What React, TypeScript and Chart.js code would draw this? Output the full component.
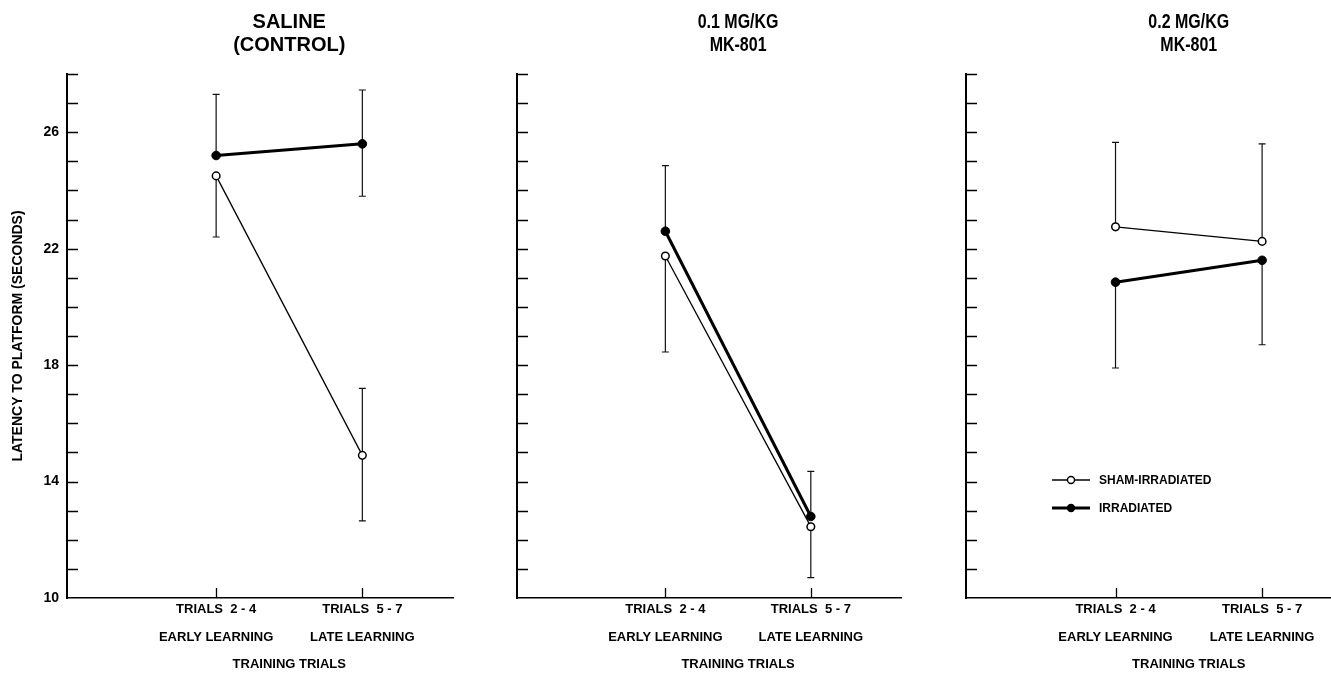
import React, { useEffect, useRef } from 'react';
import { Chart, registerables } from 'chart.js';

Chart.register(...registerables);

// ---------- data ----------
const categories = ['TRIALS  2 - 4', 'TRIALS  5 - 7'];
const phases = ['EARLY LEARNING', 'LATE LEARNING'];
const categoryX = [1, 2];
const xAxisTitle = 'TRAINING TRIALS';
const yAxisTitle = 'LATENCY TO PLATFORM (SECONDS)';
const yLabelValues = [10, 14, 18, 22, 26];
const seriesNames = ['SHAM-IRRADIATED', 'IRRADIATED'];
const panelTitles = [
  ['SALINE', '(CONTROL)'],
  ['0.1 MG/KG', 'MK-801'],
  ['0.2 MG/KG', 'MK-801'],
];

// Saline (control)
const salineSham = [24.5, 14.9];
const salineShamErrUp = [0, 2.3];
const salineShamErrDown = [2.1, 2.25];
const salineIrr = [25.2, 25.6];
const salineIrrErrUp = [2.1, 1.85];
const salineIrrErrDown = [0, 1.8];

// 0.1 mg/kg MK-801
const mk01Sham = [21.75, 12.45];
const mk01ShamErrUp = [0, 0];
const mk01ShamErrDown = [3.3, 1.75];
const mk01Irr = [22.6, 12.8];
const mk01IrrErrUp = [2.25, 1.55];
const mk01IrrErrDown = [0, 0];

// 0.2 mg/kg MK-801
const mk02Sham = [22.75, 22.25];
const mk02ShamErrUp = [2.9, 3.35];
const mk02ShamErrDown = [0, 0];
const mk02Irr = [20.85, 21.6];
const mk02IrrErrUp = [0, 0];
const mk02IrrErrDown = [2.95, 2.9];

const shamSeries = [salineSham, mk01Sham, mk02Sham];
const shamUp = [salineShamErrUp, mk01ShamErrUp, mk02ShamErrUp];
const shamDown = [salineShamErrDown, mk01ShamErrDown, mk02ShamErrDown];
const irrSeries = [salineIrr, mk01Irr, mk02Irr];
const irrUp = [salineIrrErrUp, mk01IrrErrUp, mk02IrrErrUp];
const irrDown = [salineIrrErrDown, mk01IrrErrDown, mk02IrrErrDown];

// ---------- layout ----------
const PAGE_W = 1331;
const PAGE_H = 673;
const panels = [
  { left: 0, width: 480, axisW: 67, padRight: 27, xMax: 2.62, yLabels: true, titleSquash: 1 },
  { left: 480, width: 450, axisW: 37, padRight: 29, xMax: 2.62, yLabels: false, titleSquash: 0.8 },
  { left: 930, width: 411, axisW: 36, padRight: 10, xMax: 2.47, yLabels: false, titleSquash: 0.8 },
];
const FONT = "'Liberation Sans', Arial, Helvetica, sans-serif";

const decor = {
  id: 'decor',
  beforeDatasetsDraw(chart: any) {
    const ctx = chart.ctx;
    const xs = chart.scales.x;
    const ys = chart.scales.y;
    ctx.save();
    ctx.strokeStyle = '#111';
    ctx.lineWidth = 1.2;
    chart.data.datasets.forEach((ds: any) => {
      ds.data.forEach((p: any, i: number) => {
        const x = xs.getPixelForValue(p.x);
        const y0 = ys.getPixelForValue(p.y);
        const ends: number[] = [];
        if (ds.errUp[i] > 0) ends.push(p.y + ds.errUp[i]);
        if (ds.errDown[i] > 0) ends.push(p.y - ds.errDown[i]);
        ends.forEach((v) => {
          const y1 = ys.getPixelForValue(v);
          ctx.beginPath();
          ctx.moveTo(x, y0);
          ctx.lineTo(x, y1);
          ctx.moveTo(x - 3.5, y1);
          ctx.lineTo(x + 3.5, y1);
          ctx.stroke();
        });
      });
    });
    ctx.restore();
  },
  afterDraw(chart: any, _args: any, opts: any) {
    const ctx = chart.ctx;
    const xs = chart.scales.x;
    const ys = chart.scales.y;
    const area = chart.chartArea;
    ctx.save();
    ctx.strokeStyle = '#000';
    // inward y ticks
    ctx.lineWidth = 1.5;
    ys.ticks.forEach((t: any) => {
      if (t.value <= ys.min) return;
      const y = Math.round(ys.getPixelForValue(t.value)) + 0.5;
      ctx.beginPath();
      ctx.moveTo(area.left, y);
      ctx.lineTo(area.left + 11, y);
      ctx.stroke();
    });
    // inward x ticks
    ctx.lineWidth = 1.3;
    categoryX.forEach((v) => {
      const x = Math.round(xs.getPixelForValue(v)) + 0.5;
      ctx.beginPath();
      ctx.moveTo(x, area.bottom);
      ctx.lineTo(x, area.bottom - 10);
      ctx.stroke();
    });
    // panel title
    const mid = xs.getPixelForValue((categoryX[0] + categoryX[1]) / 2);
    ctx.fillStyle = '#000';
    ctx.textAlign = 'center';
    ctx.textBaseline = 'middle';
    ctx.font = `bold 20px ${FONT}`;
    ctx.save();
    ctx.translate(mid, 0);
    ctx.scale(opts.squash, 1);
    ctx.fillText(opts.title[0], 0, 22);
    ctx.fillText(opts.title[1], 0, 45);
    ctx.restore();
    // x axis title
    ctx.font = `bold 13px ${FONT}`;
    ctx.fillText(xAxisTitle, mid, 664);
    // legend
    if (opts.legend) {
      const x1 = area.left + 86;
      const x2 = area.left + 124;
      const xm = (x1 + x2) / 2;
      const rows = [480, 508];
      ctx.textAlign = 'left';
      ctx.font = `bold 12px ${FONT}`;
      // sham
      ctx.lineWidth = 1.3;
      ctx.beginPath();
      ctx.moveTo(x1, rows[0]);
      ctx.lineTo(x2, rows[0]);
      ctx.stroke();
      ctx.beginPath();
      ctx.arc(xm, rows[0], 3.5, 0, Math.PI * 2);
      ctx.fillStyle = '#fff';
      ctx.fill();
      ctx.lineWidth = 1.4;
      ctx.stroke();
      ctx.fillStyle = '#000';
      ctx.fillText(seriesNames[0], x2 + 9, rows[0] + 1);
      // irradiated
      ctx.lineWidth = 3;
      ctx.beginPath();
      ctx.moveTo(x1, rows[1]);
      ctx.lineTo(x2, rows[1]);
      ctx.stroke();
      ctx.beginPath();
      ctx.arc(xm, rows[1], 4.2, 0, Math.PI * 2);
      ctx.fill();
      ctx.fillText(seriesNames[1], x2 + 9, rows[1] + 1);
    }
    ctx.restore();
  },
};

function Panel({ idx }: { idx: number }) {
  const ref = useRef<HTMLCanvasElement | null>(null);
  const cfg = panels[idx];
  useEffect(() => {
    if (!ref.current) return;
    const mk = (vals: number[]) => vals.map((v, i) => ({ x: categoryX[i], y: v }));
    const chart = new Chart(ref.current, {
      type: 'line',
      data: {
        datasets: [
          {
            label: seriesNames[1],
            data: mk(irrSeries[idx]),
            errUp: irrUp[idx],
            errDown: irrDown[idx],
            borderColor: '#000',
            backgroundColor: '#000',
            borderWidth: 3,
            pointRadius: 4.3,
            pointBackgroundColor: '#000',
            pointBorderColor: '#000',
            pointBorderWidth: 1,
          } as any,
          {
            label: seriesNames[0],
            data: mk(shamSeries[idx]),
            errUp: shamUp[idx],
            errDown: shamDown[idx],
            borderColor: '#000',
            backgroundColor: '#fff',
            borderWidth: 1.3,
            pointRadius: 3.8,
            pointBackgroundColor: '#fff',
            pointBorderColor: '#000',
            pointBorderWidth: 1.5,
          } as any,
        ],
      },
      options: {
        animation: false,
        responsive: false,
        devicePixelRatio: 1,
        events: [],
        layout: { padding: { top: 74, right: cfg.padRight, bottom: 0, left: 0 } },
        plugins: {
          legend: { display: false },
          tooltip: { enabled: false },
          decor: {
            title: panelTitles[idx],
            squash: cfg.titleSquash,
            legend: idx === 2,
          },
        } as any,
        scales: {
          x: {
            type: 'linear',
            min: -0.02,
            max: cfg.xMax,
            afterBuildTicks: (s: any) => {
              s.ticks = categoryX.map((v) => ({ value: v }));
            },
            afterFit: (s: any) => {
              s.height = PAGE_H - 598;
              s.paddingLeft = 0;
              s.paddingRight = 0;
            },
            ticks: {
              autoSkip: false,
              maxRotation: 0,
              padding: -3,
              color: '#000',
              font: { family: FONT, size: 13, weight: 'bold', lineHeight: 2.15 },
              callback: (v: any) => {
                const i = categoryX.indexOf(Number(v));
                return i >= 0 ? [categories[i], phases[i]] : '';
              },
            },
            grid: { display: false, drawTicks: false },
            border: { display: true, color: '#000', width: 1.6 },
          },
          y: {
            type: 'linear',
            min: 10,
            max: 28,
            afterFit: (s: any) => {
              s.width = cfg.axisW;
            },
            ticks: {
              stepSize: 1,
              display: cfg.yLabels,
              padding: 8,
              color: '#000',
              font: { family: FONT, size: 14, weight: 'bold' },
              callback: (v: any) => (yLabelValues.includes(Number(v)) ? String(v) : ''),
            },
            title: {
              display: cfg.yLabels,
              text: yAxisTitle,
              color: '#000',
              font: { family: FONT, size: 14, weight: 'bold' },
              padding: { top: 10, bottom: 0 },
            },
            grid: { display: false, drawTicks: false },
            border: { display: true, color: '#000', width: 2 },
          },
        },
      },
      plugins: [decor as any],
    } as any);
    return () => chart.destroy();
  }, [idx]);
  return (
    <canvas
      ref={ref}
      width={cfg.width}
      height={PAGE_H}
      style={{ position: 'absolute', left: cfg.left, top: 0, width: cfg.width, height: PAGE_H }}
    />
  );
}

export default function App() {
  return (
    <div
      style={{
        position: 'absolute',
        left: 0,
        top: 0,
        width: PAGE_W,
        height: PAGE_H,
        background: '#fff',
        overflow: 'hidden',
      }}
    >
      {panels.map((_, i) => (
        <Panel key={i} idx={i} />
      ))}
    </div>
  );
}
